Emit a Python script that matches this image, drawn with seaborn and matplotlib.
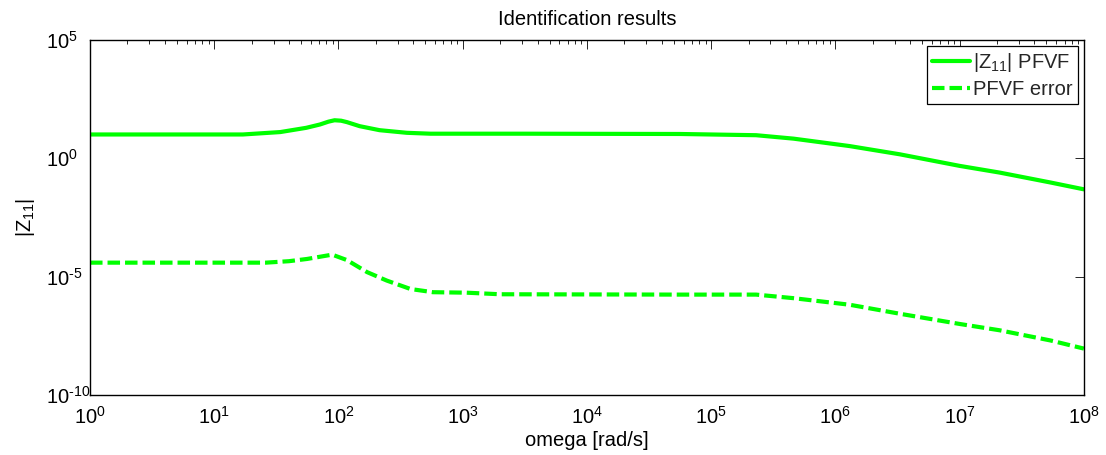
import numpy as np
import pandas as pd
import matplotlib
matplotlib.use("Agg")
import matplotlib.pyplot as plt
import matplotlib.ticker as mticker
import seaborn as sns

# ---- data ----
omega_fit = [1, 10, 17, 34, 55, 71, 83, 93, 105, 117, 148, 214, 355, 550, 3160,
             5.6e4, 2.3e5, 4.6e5, 1.3e6, 3.3e6, 1e7, 2.1e7, 5.4e7, 1e8]
z_fit = [10.2, 10.2, 10.2, 12.9, 19.5, 27.0, 35.5, 40.7, 39.0, 33.9, 22.9, 15.5, 12.0,
         11.0, 11.0, 10.7, 9.5, 6.8, 3.3, 1.48, 0.48, 0.25, 0.095, 0.049]

omega_err = [1, 26, 40, 56, 89, 117, 170, 245, 380, 575, 1070, 2000,
             5.6e4, 2.3e5, 4.6e5, 1.3e6, 3.3e6, 1e7, 2.1e7, 5.4e7, 1e8]
z_err = [3.9e-5, 3.9e-5, 4.5e-5, 5.6e-5, 8.5e-5, 5.0e-5, 1.55e-5, 6.8e-6, 3.0e-6, 2.2e-6,
         2.1e-6, 1.8e-6, 1.74e-6, 1.74e-6, 1.23e-6, 6.5e-7, 2.7e-7, 1.0e-7, 5.4e-8,
         2.0e-8, 9.1e-9]

labels = [r'|Z$_{11}$| PFVF', 'PFVF error']
title = 'Identification results'
xlabel = 'omega [rad/s]'
ylabel = r'|Z$_{11}$|'
xticks = [1e0, 1e1, 1e2, 1e3, 1e4, 1e5, 1e6, 1e7, 1e8]
yticks = [1e-10, 1e-5, 1e0, 1e5]

df = pd.concat([
    pd.DataFrame({'omega': omega_fit, 'Z': z_fit, 'series': labels[0]}),
    pd.DataFrame({'omega': omega_err, 'Z': z_err, 'series': labels[1]}),
], ignore_index=True)

sns.set_theme(style='white')
plt.rcParams['font.family'] = ['Liberation Sans', 'DejaVu Sans']
plt.rcParams['mathtext.fontset'] = 'custom'
plt.rcParams['mathtext.rm'] = 'Liberation Sans'
plt.rcParams['mathtext.it'] = 'Liberation Sans'
plt.rcParams['mathtext.bf'] = 'Liberation Sans'
plt.rcParams['axes.unicode_minus'] = False


def pow10(v, pos):
    e = int(round(np.log10(v)))
    s = r'\text{-}%d' % (-e) if e < 0 else '%d' % e
    return r'$\mathdefault{10^{%s}}$' % s


fig = plt.figure(figsize=(11.06, 4.55), dpi=100)
ax = fig.add_axes([0.0814, 0.132, 0.8986, 0.780])

sns.lineplot(data=df, x='omega', y='Z', style='series', ax=ax,
             color='#00ff00', linewidth=3.0, sort=False,
             dashes={labels[0]: '', labels[1]: (3.0, 1.2)}, legend=True)

ax.set_xscale('log')
ax.set_yscale('log')
ax.set_xlim(1, 1e8)
ax.set_ylim(1e-10, 1e5)

ax.set_xticks(xticks)
ax.xaxis.set_major_formatter(mticker.FuncFormatter(pow10))
ax.xaxis.set_minor_locator(mticker.LogLocator(base=10, subs=np.arange(2, 10), numticks=100))
ax.xaxis.set_minor_formatter(mticker.NullFormatter())
ax.set_yticks(yticks)
ax.yaxis.set_major_formatter(mticker.FuncFormatter(pow10))
ax.yaxis.set_minor_locator(mticker.NullLocator())

ax.tick_params(axis='both', which='both', direction='in', top=True, right=True,
               colors='#262626', labelcolor='black', labelsize=14.5)
ax.tick_params(which='major', length=6.5, width=0.7)
ax.tick_params(axis='x', which='major', pad=8)
ax.tick_params(axis='y', which='major', pad=32)
ax.tick_params(which='minor', length=3, width=0.7)
for lbl in ax.get_yticklabels():
    lbl.set_horizontalalignment('left')

for s in ax.spines.values():
    s.set_color('black')
    s.set_linewidth(1.0)
    s.set_visible(True)

ax.set_title(title, fontsize=14.5, pad=11, color='black')
ax.set_xlabel(xlabel, fontsize=14.5, labelpad=2, color='black')
ax.set_ylabel(ylabel, fontsize=14.5, labelpad=6, color='black')
ax.grid(False)

h, l = ax.get_legend_handles_labels()
leg = ax.legend(h, labels, loc='upper right', fontsize=14.5, frameon=True,
                fancybox=False, framealpha=1, edgecolor='black',
                borderaxespad=0.3, handlelength=1.9, handletextpad=0.15,
                borderpad=0.25, labelspacing=0.3)
leg.get_frame().set_linewidth(0.9)

fig.savefig('out.png', dpi=100)
